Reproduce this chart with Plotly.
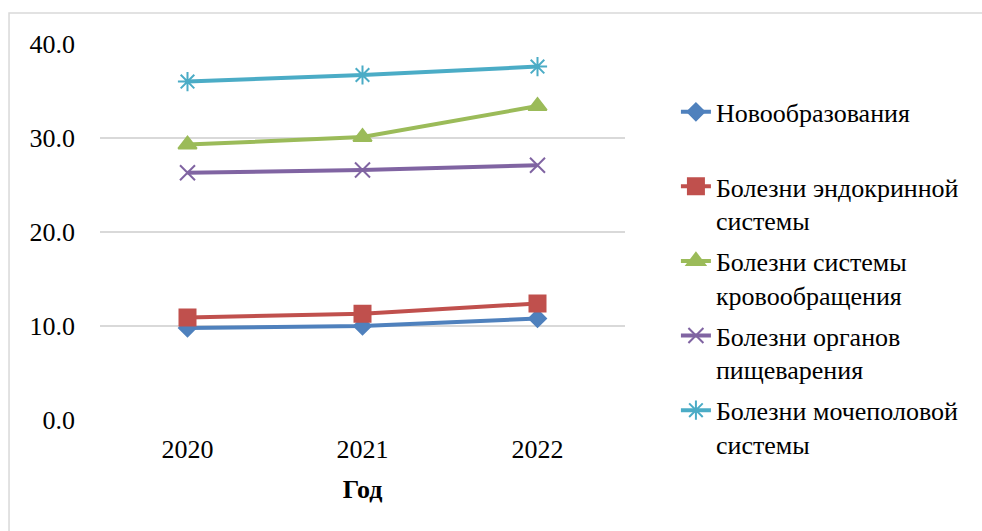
import plotly.graph_objects as go

years = ["2020", "2021", "2022"]
series_names = [
    "Новообразования",
    "Болезни эндокринной<br>системы",
    "Болезни системы<br>кровообращения",
    "Болезни органов<br>пищеварения",
    "Болезни мочеполовой<br>системы",
]
neoplasms = [9.8, 10.0, 10.8]
endocrine = [10.9, 11.3, 12.4]
circulatory = [29.3, 30.1, 33.4]
digestive = [26.3, 26.6, 27.1]
genitourinary = [36.0, 36.7, 37.6]
y_ticks = [0, 10, 20, 30, 40]
y_tick_labels = ["0.0", "10.0", "20.0", "30.0", "40.0"]

values = [neoplasms, endocrine, circulatory, digestive, genitourinary]
colors = ["#4F81BD", "#C0504D", "#9BBB59", "#8064A2", "#4BACC6"]
symbols = ["diamond", "square", "triangle-up", "x-thin", "asterisk"]
sizes = [13, 16, 16, 15, 16]

FONT = "Liberation Serif"

fig = go.Figure()
for i, (name, vals) in enumerate(zip(series_names, values)):
    if i == 0:
        name = name + "<br> "
    marker = dict(symbol=symbols[i], size=sizes[i], color=colors[i],
                  line=dict(color=colors[i], width=2))
    fig.add_trace(go.Scatter(
        x=years, y=vals, mode="lines+markers", name=name,
        line=dict(color=colors[i], width=4),
        marker=marker, legendgroup=f"g{i}",
    ))

fig.update_layout(
    width=982, height=531,
    margin=dict(l=100, r=357, t=44, b=111),
    paper_bgcolor="white", plot_bgcolor="white",
    font=dict(family=FONT, size=26, color="black"),
    showlegend=True,
    legend=dict(x=1.097, y=0.882, xanchor="left", yanchor="top",
                valign="top", tracegroupgap=4, maxheight=480,
                font=dict(family=FONT, size=26, color="black")),
    xaxis=dict(
        type="category", range=[-0.5, 2.5],
        showgrid=False, zeroline=False, showline=False,
        ticks="", tickfont=dict(family=FONT, size=26), ticklabelstandoff=11,
        title=dict(text="<b>Год</b>", font=dict(family=FONT, size=26), standoff=16),
    ),
    yaxis=dict(
        range=[0, 40], tickvals=y_ticks, ticktext=y_tick_labels,
        showgrid=True, gridcolor="#D9D9D9", gridwidth=1.5,
        zeroline=False, showline=False, ticks="",
        ticklabelstandoff=24, tickfont=dict(family=FONT, size=26),
    ),
    shapes=[dict(type="rect", xref="paper", yref="paper",
                 x0=-0.1733, x1=1.9, y0=-0.5, y1=1.0824,
                 line=dict(color="#D9D9D9", width=1.5), fillcolor="rgba(0,0,0,0)",
                 layer="below")],
)

fig.write_html("out.html")
